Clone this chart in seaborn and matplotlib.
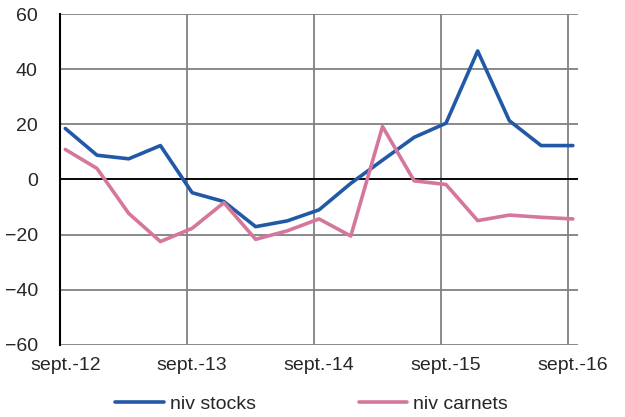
import matplotlib
matplotlib.use("Agg")
import matplotlib.pyplot as plt
from matplotlib.transforms import Bbox
import seaborn as sns
import pandas as pd

# quarterly points, sept.-12 .. sept.-16 (month offsets from sept.-12)
months = [0, 3, 6, 9, 12, 15, 18, 21, 24, 27, 30, 33, 36, 39, 42, 45, 48]
niv_stocks = [18.5, 8.8, 7.5, 12.3, -4.8, -8.0, -17.1, -15.0, -11.0, -1.4, 7.0,
              15.3, 20.4, 46.6, 21.3, 12.3, 12.3]
niv_carnets = [10.9, 4.0, -12.3, -22.5, -17.7, -8.4, -21.7, -18.6, -14.3, -20.5,
               19.2, -0.5, -1.8, -14.9, -12.9, -13.7, -14.3]
tick_labels = ["sept.-12", "sept.-13", "sept.-14", "sept.-15", "sept.-16"]
series_names = ["niv stocks", "niv carnets"]

df = pd.concat([
    pd.DataFrame({"month": months, "value": niv_stocks, "serie": series_names[0]}),
    pd.DataFrame({"month": months, "value": niv_carnets, "serie": series_names[1]}),
])

sns.set_style("white")
plt.rcParams["font.family"] = ["Liberation Sans", "DejaVu Sans"]

fig = plt.figure(figsize=(6.25, 4.17), dpi=100)
ax = fig.add_axes([0.096, 0.1727, 0.829, 0.7937])

sns.lineplot(data=df, x="month", y="value", hue="serie", palette=["#2259a6", "#d5779c"],
             linewidth=2.6, ax=ax, legend=False)

ax.set_xlim(-0.5, 48.5)
ax.set_ylim(-60, 60)
ax.set_yticks(range(-60, 61, 20))
ax.set_xticks([0, 12, 24, 36, 48])
ax.set_xticklabels(tick_labels)
ax.set_xticks([-0.5, 11.5, 23.5, 35.5, 47.5], minor=True)
ax.tick_params(axis="both", which="both", length=0, labelsize=14)
ax.tick_params(axis="x", pad=9)
ax.tick_params(axis="y", pad=16)
ax.grid(True, axis="y", which="major", color="#808080", linewidth=1.3)
ax.grid(True, axis="x", which="minor", color="#808080", linewidth=1.3)
ax.grid(False, axis="x", which="major")
ax.set_axisbelow(True)
ax.axhline(0, color="black", linewidth=1.3, zorder=1.5)
for s in ["top", "right", "bottom"]:
    ax.spines[s].set_visible(False)
ax.spines["left"].set_color("black")
ax.spines["left"].set_linewidth(1.5)
ax.set_xlabel("")
ax.set_ylabel("")

# the last label is cut at the canvas edge in the original
clip = Bbox.from_extents(0, 0, 610, 417)
for lbl in ax.get_xticklabels():
    lbl.set_clip_on(True)
    lbl.set_clip_box(clip)

handles = [plt.Line2D([], [], color="#2259a6", linewidth=2.6),
           plt.Line2D([], [], color="#d5779c", linewidth=2.6)]
fig.legend(handles, series_names, loc="center", bbox_to_anchor=(0.4985, 0.031), ncol=2,
           frameon=False, fontsize=14, handlelength=2.5, handletextpad=0.3,
           columnspacing=5.3)

# title of the original sits above the canvas, only its descenders show
fig.text(0.08, 1.012, "(en pourcentage, cvs)", fontsize=14, va="baseline")

fig.savefig("out.png", dpi=100)
